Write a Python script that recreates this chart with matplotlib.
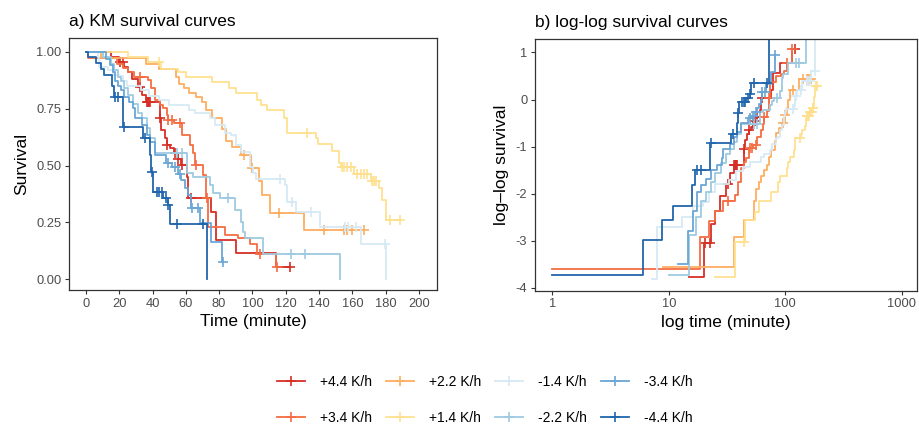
"""
KM and log-log survival curves for eight heating/cooling rates
"""
import numpy as np
import matplotlib
matplotlib.use("Agg")
import matplotlib.pyplot as plt
from matplotlib.lines import Line2D

plt.rcParams['font.family'] = ['Liberation Sans', 'DejaVu Sans']
plt.rcParams['axes.unicode_minus'] = False

labels = ["+4.4 K/h", "+3.4 K/h", "+2.2 K/h", "+1.4 K/h",
          "-1.4 K/h", "-2.2 K/h", "-3.4 K/h", "-4.4 K/h"]
colors = ["#d62f26", "#f46d43", "#fdae61", "#fee090",
          "#d6e9f5", "#9ecae1", "#6aa6d6", "#2166ac"]

# event times (minute), survival after each event, censor times
t_p44 = [15, 20, 23, 25, 27.5, 31, 33.5, 36, 44.4, 45, 47.4, 48.4, 50.4, 53, 55,
         57, 60.4, 61.4, 75.4, 78.4, 90.4, 114.4]
s_p44 = [0.977, 0.954, 0.931, 0.91, 0.88, 0.846, 0.81, 0.78, 0.707, 0.656, 0.62,
         0.59, 0.575, 0.553, 0.53, 0.502, 0.45, 0.356, 0.297, 0.173, 0.114, 0.054]
c_p44 = [20.5, 22.5, 32.5, 36.5, 37, 37.5, 38, 38.5, 44.6, 48.6, 53.4, 55.4, 57.4,
         63.4, 122.4]

t_p34 = [1, 18.5, 22, 25, 29, 37, 39, 41.4, 44.4, 46.4, 48.4, 49, 53, 57.4, 62.4,
         64.4, 65.4, 70.4, 72.4, 73.4, 83.4, 91.4, 98.4, 103, 114.4]
s_p34 = [0.973, 0.947, 0.927, 0.91, 0.89, 0.876, 0.84, 0.79, 0.766, 0.751, 0.722,
         0.70, 0.685, 0.634, 0.59, 0.553, 0.502, 0.458, 0.356, 0.231, 0.195, 0.18,
         0.157, 0.112, 0.054]
c_p34 = [32.4, 49.4, 51.4, 56.4, 66, 72.6, 104.4, 115]

t_p22 = [9, 36, 44, 54, 56, 59, 62, 66, 70, 72, 76, 82, 84, 88, 93, 99, 104, 105.5,
         110.4, 131]
s_p22 = [0.972, 0.947, 0.925, 0.89, 0.86, 0.84, 0.82, 0.80, 0.78, 0.745, 0.71, 0.66,
         0.61, 0.58, 0.546, 0.49, 0.43, 0.37, 0.29, 0.215]
c_p22 = [95, 100, 116, 143, 155, 157, 160, 167]

t_p14 = [25, 37, 45, 55, 60, 76, 86, 90, 103, 105, 109, 119, 121, 138, 139.5, 148,
         152, 153, 161, 171, 176, 178, 180]
s_p14 = [0.977, 0.953, 0.925, 0.912, 0.89, 0.868, 0.84, 0.82, 0.79, 0.767, 0.745,
         0.71, 0.643, 0.62, 0.594, 0.562, 0.511, 0.493, 0.464, 0.43, 0.40, 0.35, 0.26]
c_p14 = [44, 133, 153.5, 155, 157, 159, 163, 165, 167, 169, 172, 173, 174, 182.4, 188.4]

t_m14 = [7.1, 7.9, 13, 16, 19.8, 22, 24.8, 32.8, 37.8, 43.8, 49.8, 61.8, 65.8, 74.4,
         77.8, 83.8, 87.4, 90.4, 93.4, 98.4, 100.4, 102.4, 119.4, 121, 126.4, 140.4,
         165.4, 180.4]
s_m14 = [0.978, 0.935, 0.92, 0.90, 0.892, 0.87, 0.848, 0.833, 0.804, 0.789, 0.767,
         0.745, 0.73, 0.71, 0.68, 0.645, 0.634, 0.59, 0.561, 0.495, 0.466, 0.442,
         0.415, 0.34, 0.296, 0.23, 0.157, 0.0]
c_m14 = [116.4, 124, 135.4, 155.4, 157.4, 162.4, 179.4]

t_m22 = [10, 15, 17, 19, 21, 23, 25, 28, 31, 33.4, 36.4, 38.4, 41.4, 60.4, 64.4, 74.4,
         76.4, 80.4, 89.4, 93.4, 94.4, 95.4, 106.4, 152.4]
s_m22 = [0.976, 0.945, 0.92, 0.89, 0.87, 0.84, 0.81, 0.77, 0.73, 0.707, 0.664, 0.62,
         0.553, 0.466, 0.45, 0.414, 0.378, 0.356, 0.304, 0.253, 0.209, 0.18, 0.112, 0.0]
c_m22 = [54.4, 57.4, 85.4, 123.4, 131.4]

t_m34 = [12, 14.7, 16, 17.5, 19, 21, 23, 26, 28.4, 29.4, 33.4, 36.4, 38.4, 41.4, 48,
         51.4, 55, 57, 59.4, 61.4, 63.4, 68.4, 75.4, 82]
s_m34 = [0.97, 0.94, 0.91, 0.87, 0.85, 0.83, 0.80, 0.78, 0.751, 0.707, 0.678, 0.634,
         0.605, 0.546, 0.51, 0.495, 0.465, 0.436, 0.40, 0.37, 0.312, 0.246, 0.165, 0.077]
c_m34 = [49.4, 53.4, 56.4, 63.5, 67.4, 82.4]

t_m44 = [1, 6, 8.8, 10.9, 15.7, 16.7, 22.4, 34.4, 38.4, 39, 40.4, 46.4, 49.4, 50.4, 73]
s_m44 = [0.976, 0.951, 0.926, 0.90, 0.85, 0.80, 0.67, 0.62, 0.546, 0.473, 0.385,
         0.356, 0.326, 0.243, 0.0]
c_m44 = [17.5, 19, 23, 35.5, 39.4, 42.4, 44, 45.5, 48, 49.5, 54.4, 70.4]

groups = [(t_p44, s_p44, c_p44), (t_p34, s_p34, c_p34), (t_p22, s_p22, c_p22),
          (t_p14, s_p14, c_p14), (t_m14, s_m14, c_m14), (t_m22, s_m22, c_m22),
          (t_m34, s_m34, c_m34), (t_m44, s_m44, c_m44)]


def surv_at(t, s, x):
    i = np.searchsorted(t, x, side='right') - 1
    return np.where(i < 0, 1.0, np.asarray(s)[np.clip(i, 0, None)])


def cloglog(s):
    s = np.clip(np.asarray(s, float), 1e-9, 1)
    return np.log(-np.log(s))


def style(ax):
    for sp in ax.spines.values():
        sp.set_color('#333333')
        sp.set_linewidth(0.9)
    ax.tick_params(length=3, width=0.8, color='#333333', labelcolor='#4d4d4d',
                   labelsize=9.3, pad=2.5)


fig = plt.figure(figsize=(9.2, 4.28), dpi=100)
ax1 = fig.add_axes([0.0753, 0.3224, 0.400, 0.588])
ax2 = fig.add_axes([0.5815, 0.3208, 0.4149, 0.5874])

for (t, s, c), col in zip(groups, colors):
    t = np.asarray(t, float)
    s = np.asarray(s, float)
    c = np.asarray(c, float)
    tend = max(t[-1], c.max())
    # KM curve
    x = np.r_[0, t]
    y = np.r_[1, s]
    if tend > t[-1] and s[-1] > 0:
        x = np.r_[x, tend]
        y = np.r_[y, s[-1]]
    ax1.plot(x, y, drawstyle='steps-post', color=col, lw=1.3)
    ax1.plot(c, surv_at(t, s, c), ls='none', marker='+', ms=7, mew=1.2, color=col)
    # log-log curve
    xl = t
    yl = cloglog(s)
    if tend > t[-1] and s[-1] > 0:
        xl = np.r_[xl, tend]
        yl = np.r_[yl, yl[-1]]
    ax2.plot(xl, yl, drawstyle='steps-post', color=col, lw=1.3)
    sc = surv_at(t, s, c)
    ok = sc < 1
    ax2.plot(c[ok], cloglog(sc[ok]), ls='none', marker='+', ms=7, mew=1.2, color=col)

ax1.set_xlim(-10, 211)
ax1.set_ylim(-0.047, 1.059)
ax1.set_xticks(np.arange(0, 201, 20))
ax1.set_yticks([0, 0.25, 0.5, 0.75, 1.0])
ax1.set_yticklabels(["0.00", "0.25", "0.50", "0.75", "1.00"])
ax1.set_xlabel("Time (minute)", fontsize=12.5, labelpad=3)
ax1.set_ylabel("Survival", fontsize=12.5, labelpad=5)
ax1.set_title("a) KM survival curves", loc='left', fontsize=12.5, pad=9)
style(ax1)

ax2.set_xscale('log')
ax2.set_xlim(10 ** -0.15, 10 ** 3.13)
ax2.set_ylim(-4.06, 1.28)
ax2.set_xticks([1, 10, 100, 1000])
ax2.set_xticklabels(["1", "10", "100", "1000"])
ax2.xaxis.set_minor_locator(matplotlib.ticker.NullLocator())
ax2.set_yticks([-4, -3, -2, -1, 0, 1])
ax2.set_yticklabels(["-4", "-3", "-2", "-1", "0", "1"])
ax2.set_xlabel("log time (minute)", fontsize=12.5, labelpad=3)
ax2.set_ylabel("log\u2013log survival", fontsize=12.5, labelpad=5)
ax2.set_title("b) log-log survival curves", loc='left', fontsize=12.5, pad=9)
style(ax2)

handles = [Line2D([], [], color=col, lw=1.3, marker='+', ms=7, mew=1.2)
           for col in colors]
fig.legend(handles, labels, ncol=4, loc='center', bbox_to_anchor=(0.527, 0.066),
           frameon=False, fontsize=10, handlelength=2.0, handletextpad=1.1,
           columnspacing=1.0, labelspacing=1.55)

fig.savefig("out.png", dpi=100)
